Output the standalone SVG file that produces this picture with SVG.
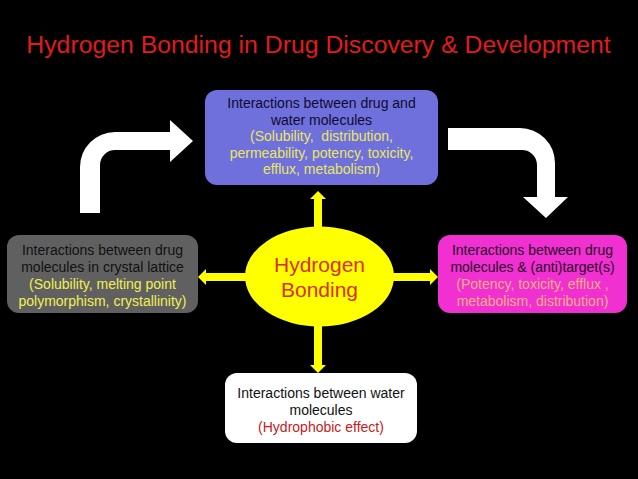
<svg xmlns="http://www.w3.org/2000/svg" width="638" height="479" viewBox="0 0 638 479">
<style>
text{font-family:"Liberation Sans",Arial,sans-serif;text-anchor:middle}
.t{font-size:14px}
.ya{fill:#ffff00}
.wa{fill:#ffffff}
</style>
<rect x="0" y="0" width="638" height="479" fill="#000000"/>
<text x="318.5" y="53" style="font-size:24.8px" fill="#e01c1c">Hydrogen Bonding in Drug Discovery &amp; Development</text>
<g id="connectors">
<path class="wa" d="M80,213 L80,167 A35,35 0 0 1 115,132 L170,132 L170,120 L193,141 L170,162 L170,150 L115,150 A15,15 0 0 0 100,165 L100,213 Z"/>
<path class="wa" d="M448,128 L520,128 A35,35 0 0 1 555,163 L555,197 L568,197 L546,218 L523,197 L537,197 L537,165 A15,15 0 0 0 522,150 L448,150 Z"/>
<polygon class="ya" points="318,191 326,199 322,199 322,235 314,235 314,199 310,199"/>
<polygon class="ya" points="318,373 326,365 322,365 322,320 314,320 314,365 310,365"/>
<polygon class="ya" points="198,277 206,269 206,273 252,273 252,281 206,281 206,285"/>
<polygon class="ya" points="438,277 430,269 430,273 386,273 386,281 430,281 430,285"/>
</g>
<g id="node-top">
<rect x="205" y="90" width="233" height="95" rx="12" fill="#7070dc"/>
<text class="t" x="321.5" y="108" fill="#0c0c30">Interactions between drug and</text>
<text class="t" x="321.5" y="124.5" fill="#0c0c30">water molecules</text>
<text class="t" x="321.5" y="141" fill="#e8e860" xml:space="preserve">(Solubility,  distribution,</text>
<text class="t" x="321.5" y="157.5" fill="#e8e860">permeability, potency, toxicity,</text>
<text class="t" x="321.5" y="174" fill="#e8e860">efflux, metabolism)</text>
</g>
<g id="node-left">
<rect x="7" y="235" width="191" height="78" rx="12" fill="#606060"/>
<text class="t" x="102.5" y="255" fill="#111111">Interactions between drug</text>
<text class="t" x="102.5" y="272" fill="#111111">molecules in crystal lattice</text>
<text class="t" x="102.5" y="289" fill="#f0f050">(Solubility, melting point</text>
<text class="t" x="102.5" y="306" fill="#f0f050">polymorphism, crystallinity)</text>
</g>
<g id="node-right">
<rect x="438" y="235" width="189" height="78" rx="12" fill="#f030d0"/>
<text class="t" x="532.5" y="255" fill="#2a0a2a">Interactions between drug</text>
<text class="t" x="532.5" y="272" fill="#2a0a2a">molecules &amp; (anti)target(s)</text>
<text class="t" x="532.5" y="289" fill="#ffb080">(Potency, toxicity, efflux ,</text>
<text class="t" x="532.5" y="306" fill="#ffb080">metabolism, distribution)</text>
</g>
<g id="node-bottom">
<rect x="225" y="373" width="192" height="70" rx="12" fill="#ffffff"/>
<text class="t" x="321" y="398" fill="#111111">Interactions between water</text>
<text class="t" x="321" y="415" fill="#111111">molecules</text>
<text class="t" x="321" y="432" fill="#c82020">(Hydrophobic effect)</text>
</g>
<g id="node-center">
<ellipse cx="319.5" cy="276.5" rx="74.5" ry="50" fill="#ffff00"/>
<text x="319.5" y="272" style="font-size:21px" fill="#d83018">Hydrogen</text>
<text x="319.5" y="297" style="font-size:21px" fill="#d83018">Bonding</text>
</g>
</svg>
